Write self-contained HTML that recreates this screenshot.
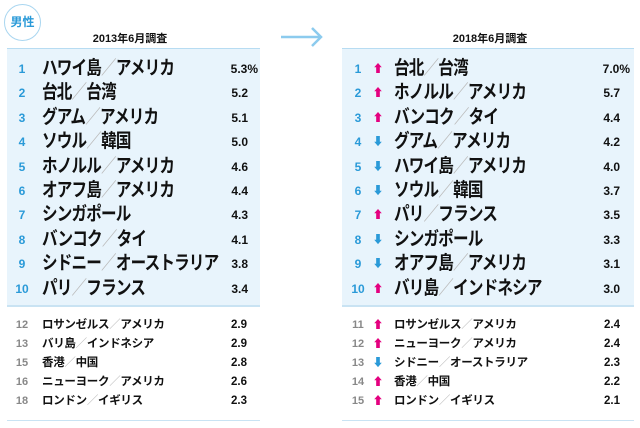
<!DOCTYPE html>
<html><head><meta charset="utf-8"><style>
*{margin:0;padding:0;box-sizing:border-box}
body{width:640px;height:428px;background:#fff;position:relative;overflow:hidden;font-family:"Liberation Sans","Noto Sans CJK JP",sans-serif;color:#111}
.a{position:absolute}
.panel{position:absolute;top:48px;height:259px;background:#e8f4fc;border-top:1px solid #b7dcf2;border-bottom:2px solid #c9e3f3}
.bot{position:absolute;top:420px;height:1px;background:#c9e3f3}
.r{position:absolute;height:24px;line-height:24px;font-weight:bold}
.n{position:absolute;text-align:center;width:24px;color:#2a9ad8;font-size:12px}
.nm{position:absolute;font-size:19px;white-space:nowrap;letter-spacing:-1px;transform:scaleX(0.82);transform-origin:0 50%}
.v{position:absolute;text-align:right;width:40px;font-size:12px}
.s .n{color:#888;font-size:11px}
.s .nm{font-size:11.5px;letter-spacing:-0.3px;transform:none}
.s .v{font-size:11.5px}
.sl{color:#bbb;font-weight:normal}
.up{color:#e4007f}.dn{color:#2a9ad8}
.ar{position:absolute;font-size:11px;width:12px;text-align:center}
</style></head><body>
<div class="a" style="left:4px;top:4px;width:37px;height:37px;border:1px solid #a9d6f0;border-radius:50%;color:#2a9ad8;font-weight:bold;font-size:12px;line-height:35px;text-align:center">男性</div>
<div class="a" style="left:60px;top:30px;width:140px;text-align:center;font-size:11px;font-weight:bold">2013年6月調査</div>
<div class="a" style="left:420px;top:30px;width:140px;text-align:center;font-size:11px;font-weight:bold">2018年6月調査</div>
<svg class="a" style="left:280px;top:26px" width="44" height="22"><path d="M1 11H41M32 2L41 11L32 20" stroke="#8ccbee" stroke-width="2.5" fill="none"/></svg>
<div class="panel" style="left:7px;width:253px"></div>
<div class="bot" style="left:7px;width:253px"></div>
<div class="panel" style="left:342px;width:292px"></div>
<div class="bot" style="left:342px;width:292px"></div>

<div class="r" style="top:57px;left:0"><span class="n" style="left:10px">1</span><span class="nm" style="left:42px">ハワイ島<span class="sl">／</span>アメリカ</span><span class="v" style="left:218px">5.3%</span></div>
<div class="r" style="top:81px;left:0"><span class="n" style="left:10px">2</span><span class="nm" style="left:42px">台北<span class="sl">／</span>台湾</span><span class="v" style="left:208px">5.2</span></div>
<div class="r" style="top:106px;left:0"><span class="n" style="left:10px">3</span><span class="nm" style="left:42px">グアム<span class="sl">／</span>アメリカ</span><span class="v" style="left:208px">5.1</span></div>
<div class="r" style="top:130px;left:0"><span class="n" style="left:10px">4</span><span class="nm" style="left:42px">ソウル<span class="sl">／</span>韓国</span><span class="v" style="left:208px">5.0</span></div>
<div class="r" style="top:155px;left:0"><span class="n" style="left:10px">5</span><span class="nm" style="left:42px">ホノルル<span class="sl">／</span>アメリカ</span><span class="v" style="left:208px">4.6</span></div>
<div class="r" style="top:179px;left:0"><span class="n" style="left:10px">6</span><span class="nm" style="left:42px">オアフ島<span class="sl">／</span>アメリカ</span><span class="v" style="left:208px">4.4</span></div>
<div class="r" style="top:203px;left:0"><span class="n" style="left:10px">7</span><span class="nm" style="left:42px">シンガポール</span><span class="v" style="left:208px">4.3</span></div>
<div class="r" style="top:228px;left:0"><span class="n" style="left:10px">8</span><span class="nm" style="left:42px">バンコク<span class="sl">／</span>タイ</span><span class="v" style="left:208px">4.1</span></div>
<div class="r" style="top:252px;left:0"><span class="n" style="left:10px">9</span><span class="nm" style="left:42px">シドニー<span class="sl">／</span>オーストラリア</span><span class="v" style="left:208px">3.8</span></div>
<div class="r" style="top:277px;left:0"><span class="n" style="left:10px">10</span><span class="nm" style="left:42px">パリ<span class="sl">／</span>フランス</span><span class="v" style="left:208px">3.4</span></div>

<div class="r s" style="top:313px;left:0"><span class="n" style="left:10px">12</span><span class="nm" style="left:42px">ロサンゼルス<span class="sl">／</span>アメリカ</span><span class="v" style="left:207px">2.9</span></div>
<div class="r s" style="top:332px;left:0"><span class="n" style="left:10px">13</span><span class="nm" style="left:42px">バリ島<span class="sl">／</span>インドネシア</span><span class="v" style="left:207px">2.9</span></div>
<div class="r s" style="top:351px;left:0"><span class="n" style="left:10px">15</span><span class="nm" style="left:42px">香港<span class="sl">／</span>中国</span><span class="v" style="left:207px">2.8</span></div>
<div class="r s" style="top:370px;left:0"><span class="n" style="left:10px">16</span><span class="nm" style="left:42px">ニューヨーク<span class="sl">／</span>アメリカ</span><span class="v" style="left:207px">2.6</span></div>
<div class="r s" style="top:389px;left:0"><span class="n" style="left:10px">18</span><span class="nm" style="left:42px">ロンドン<span class="sl">／</span>イギリス</span><span class="v" style="left:207px">2.3</span></div>

<div class="r" style="top:57px;left:0"><span class="n" style="left:346px">1</span><span class="ar up" style="left:372px">⬆</span><span class="nm" style="left:394px">台北<span class="sl">／</span>台湾</span><span class="v" style="left:590px">7.0%</span></div>
<div class="r" style="top:81px;left:0"><span class="n" style="left:346px">2</span><span class="ar up" style="left:372px">⬆</span><span class="nm" style="left:394px">ホノルル<span class="sl">／</span>アメリカ</span><span class="v" style="left:580px">5.7</span></div>
<div class="r" style="top:106px;left:0"><span class="n" style="left:346px">3</span><span class="ar up" style="left:372px">⬆</span><span class="nm" style="left:394px">バンコク<span class="sl">／</span>タイ</span><span class="v" style="left:580px">4.4</span></div>
<div class="r" style="top:130px;left:0"><span class="n" style="left:346px">4</span><span class="ar dn" style="left:372px">⬇</span><span class="nm" style="left:394px">グアム<span class="sl">／</span>アメリカ</span><span class="v" style="left:580px">4.2</span></div>
<div class="r" style="top:155px;left:0"><span class="n" style="left:346px">5</span><span class="ar dn" style="left:372px">⬇</span><span class="nm" style="left:394px">ハワイ島<span class="sl">／</span>アメリカ</span><span class="v" style="left:580px">4.0</span></div>
<div class="r" style="top:179px;left:0"><span class="n" style="left:346px">6</span><span class="ar dn" style="left:372px">⬇</span><span class="nm" style="left:394px">ソウル<span class="sl">／</span>韓国</span><span class="v" style="left:580px">3.7</span></div>
<div class="r" style="top:203px;left:0"><span class="n" style="left:346px">7</span><span class="ar up" style="left:372px">⬆</span><span class="nm" style="left:394px">パリ<span class="sl">／</span>フランス</span><span class="v" style="left:580px">3.5</span></div>
<div class="r" style="top:228px;left:0"><span class="n" style="left:346px">8</span><span class="ar dn" style="left:372px">⬇</span><span class="nm" style="left:394px">シンガポール</span><span class="v" style="left:580px">3.3</span></div>
<div class="r" style="top:252px;left:0"><span class="n" style="left:346px">9</span><span class="ar dn" style="left:372px">⬇</span><span class="nm" style="left:394px">オアフ島<span class="sl">／</span>アメリカ</span><span class="v" style="left:580px">3.1</span></div>
<div class="r" style="top:277px;left:0"><span class="n" style="left:346px">10</span><span class="ar up" style="left:372px">⬆</span><span class="nm" style="left:394px">バリ島<span class="sl">／</span>インドネシア</span><span class="v" style="left:580px">3.0</span></div>

<div class="r s" style="top:313px;left:0"><span class="n" style="left:346px">11</span><span class="ar up" style="left:372px">⬆</span><span class="nm" style="left:394px">ロサンゼルス<span class="sl">／</span>アメリカ</span><span class="v" style="left:580px">2.4</span></div>
<div class="r s" style="top:332px;left:0"><span class="n" style="left:346px">12</span><span class="ar up" style="left:372px">⬆</span><span class="nm" style="left:394px">ニューヨーク<span class="sl">／</span>アメリカ</span><span class="v" style="left:580px">2.4</span></div>
<div class="r s" style="top:351px;left:0"><span class="n" style="left:346px">13</span><span class="ar dn" style="left:372px">⬇</span><span class="nm" style="left:394px">シドニー<span class="sl">／</span>オーストラリア</span><span class="v" style="left:580px">2.3</span></div>
<div class="r s" style="top:370px;left:0"><span class="n" style="left:346px">14</span><span class="ar up" style="left:372px">⬆</span><span class="nm" style="left:394px">香港<span class="sl">／</span>中国</span><span class="v" style="left:580px">2.2</span></div>
<div class="r s" style="top:389px;left:0"><span class="n" style="left:346px">15</span><span class="ar up" style="left:372px">⬆</span><span class="nm" style="left:394px">ロンドン<span class="sl">／</span>イギリス</span><span class="v" style="left:580px">2.1</span></div>
</body></html>
